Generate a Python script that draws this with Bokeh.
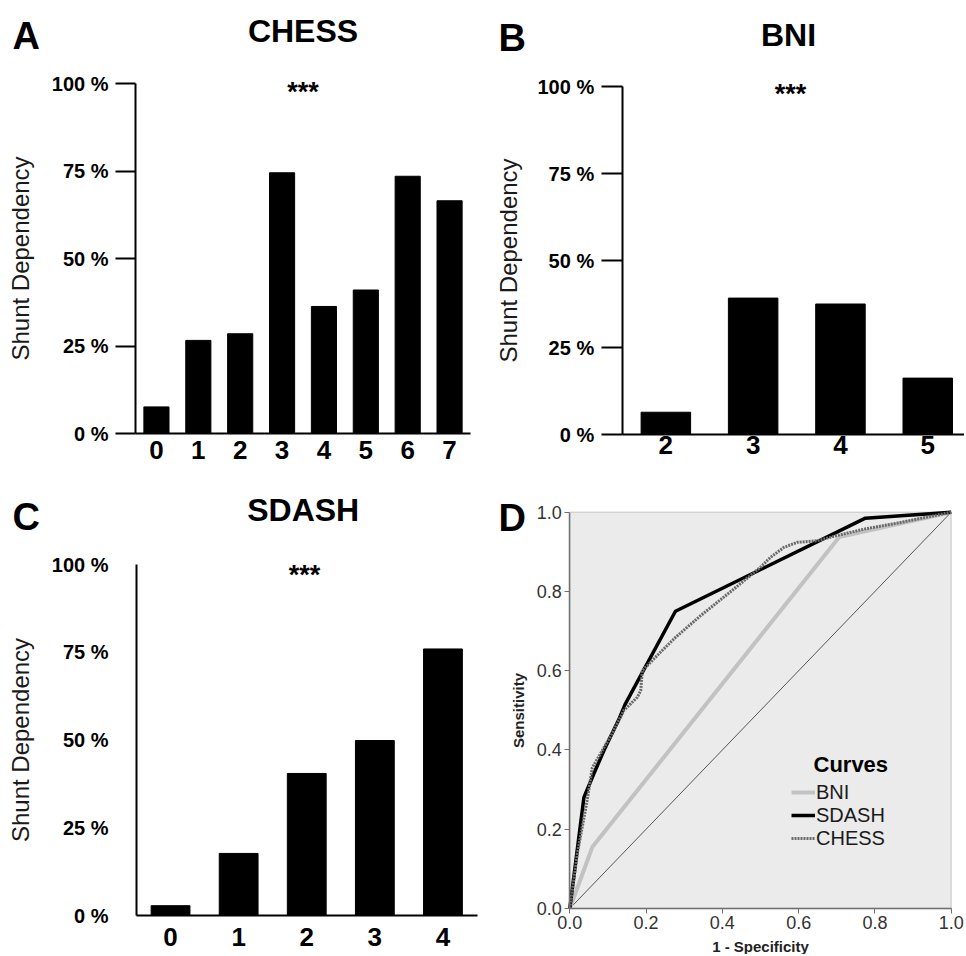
from bokeh.plotting import figure
from bokeh.models import (Range1d, FixedTicker, Label, Legend, LegendItem,
                          PrintfTickFormatter, BoxAnnotation)
from bokeh.layouts import column, row
from bokeh.embed import file_html
from bokeh.resources import INLINE

FONT = "Liberation Sans"

# ---------------- data ----------------
# Panel A: CHESS score vs shunt dependency (%)
chess_scores = [0, 1, 2, 3, 4, 5, 6, 7]
chess_pct = [7.6, 26.6, 28.5, 74.5, 36.3, 41.0, 73.5, 66.5]
# Panel B: BNI score
bni_scores = [2, 3, 4, 5]
bni_pct = [6.4, 39.2, 37.5, 16.2]
# Panel C: SDASH score
sdash_scores = [0, 1, 2, 3, 4]
sdash_pct = [2.8, 17.7, 40.5, 49.9, 76.0]

pct_ticks = [0, 25, 50, 75, 100]
pct_tick_labels = ["0 %", "25 %", "50 %", "75 %", "100 %"]
significance = "***"
bar_y_title = "Shunt Dependency"

# Panel D: ROC curves
roc_ticks = [0.0, 0.2, 0.4, 0.6, 0.8, 1.0]
ref_x = [0.0, 1.0]
ref_y = [0.0, 1.0]
bni_fpr = [0.0, 0.059, 0.706, 1.0]
bni_tpr = [0.0, 0.155, 0.937, 1.0]
sdash_fpr = [0.0, 0.037, 0.063, 0.09, 0.13, 0.145, 0.277, 0.775, 1.0]
sdash_tpr = [0.0, 0.28, 0.34, 0.40, 0.48, 0.515, 0.75, 0.985, 1.0]
chess_fpr = [0.0, 0.02, 0.045, 0.059, 0.08, 0.11, 0.142, 0.177, 0.186, 0.19, 0.238,
             0.277, 0.343, 0.43, 0.5, 0.526, 0.561, 0.596, 0.649, 0.70, 0.775, 0.867, 1.0]
chess_tpr = [0.0, 0.14, 0.27, 0.355, 0.39, 0.44, 0.50, 0.533, 0.55, 0.60, 0.647,
             0.684, 0.739, 0.806, 0.861, 0.886, 0.911, 0.924, 0.928, 0.941, 0.958, 0.974, 1.0]
roc_x_title = "1 - Specificity"
roc_y_title = "Sensitivity"
legend_title = "Curves"

# ---------------- layout helpers ----------------
W1, W2 = 480, 484
H1, H2 = 470, 484


def lin(p0, v0, p1, v1):
    k = (p1 - p0) / (v1 - v0)
    return lambda px: v0 + (px - p0) / k


def make_fig(origin, size, xcal, ycal):
    """xcal/ycal: (page_px_a, value_a, page_px_b, value_b)."""
    ox, oy = origin
    w, h = size
    fx = lin(xcal[0] - ox, xcal[1], xcal[2] - ox, xcal[3])
    fy = lin(ycal[0] - oy, ycal[1], ycal[2] - oy, ycal[3])
    p = figure(width=w, height=h, x_range=Range1d(fx(0), fx(w)),
               y_range=Range1d(fy(h), fy(0)), toolbar_location=None,
               output_backend="svg", tools="")
    p.min_border = 0
    p.min_border_left = p.min_border_right = p.min_border_top = p.min_border_bottom = 0
    p.outline_line_color = None
    p.grid.visible = False
    page_x = lambda px: fx(px - ox)
    page_y = lambda py: fy(py - oy)
    return p, page_x, page_y, fx(w)


def add_label(p, x, y, text, size, style="bold", align="center", color="black"):
    p.add_layout(Label(x=x, y=y, text=text, text_font=FONT, text_font_size=size,
                       text_font_style=style, text_align=align, text_baseline="middle",
                       text_color=color))


def bar_panel(origin, size, scores, pct, xcal, ycal, x0, x1, bar_w, y_tick_out, y_std,
              ylab_std, x_std, title, letter, title_px, letter_px, star_px):
    p, PX, PY, xend = make_fig(origin, size, xcal, ycal)
    p.vbar(x=scores, top=pct, width=bar_w, bottom=0, color="black")

    xa = p.xaxis[0]
    xa.fixed_location = 0
    xa.bounds = (x0, x1)
    xa.ticker = FixedTicker(ticks=scores)
    xa.major_tick_out = 0
    xa.major_tick_in = 0
    xa.minor_tick_out = 0
    xa.minor_tick_in = 0
    xa.axis_line_width = 2
    xa.axis_line_color = "black"
    xa.major_label_text_font = FONT
    xa.major_label_text_font_size = "26px"
    xa.major_label_text_font_style = "bold"
    xa.major_label_text_color = "black"
    xa.major_label_standoff = x_std

    ya = p.yaxis[0]
    ya.fixed_location = x0
    ya.bounds = (0, 100)
    ya.ticker = FixedTicker(ticks=pct_ticks)
    ya.major_label_overrides = dict(zip(pct_ticks, pct_tick_labels))
    ya.major_tick_out = y_tick_out
    ya.major_tick_in = 0
    ya.minor_tick_out = 0
    ya.minor_tick_in = 0
    ya.major_tick_line_width = 2
    ya.major_tick_line_color = "black"
    ya.axis_line_width = 2
    ya.axis_line_color = "black"
    ya.major_label_text_font = FONT
    ya.major_label_text_font_size = "20px"
    ya.major_label_text_font_style = "bold"
    ya.major_label_text_color = "black"
    ya.major_label_standoff = y_std
    ya.axis_label = bar_y_title
    ya.axis_label_text_font = FONT
    ya.axis_label_text_font_size = "24px"
    ya.axis_label_text_font_style = "normal"
    ya.axis_label_text_color = "#1a1a1a"
    ya.axis_label_standoff = ylab_std

    add_label(p, PX(title_px[0]), PY(title_px[1]), title, "32px")
    add_label(p, PX(letter_px[0]), PY(letter_px[1]), letter, "38px", align="left")
    add_label(p, PX(star_px[0]), PY(star_px[1]), significance, "27px")
    return p


pA = bar_panel((0, 0), (W1, H1), chess_scores, chess_pct,
               (135, -0.5, 470, 7.5), (433, 0, 83, 100), -0.5, 7.5, 0.6,
               20, 7, 15, 7, "CHESS", "A", (302.5, 30), (12, 35), (302.5, 91))
pB = bar_panel((W1, 0), (W2, H1), bni_scores, bni_pct,
               (621.7, 1.5, 709.0, 2.5), (434, 0, 86, 100), 1.5, 6.0, 0.567,
               21, 7, 13, 1, "BNI", "B", (788, 34), (498, 37), (790, 93))
pC = bar_panel((0, H1), (W1, H2), sdash_scores, sdash_pct,
               (136, -0.5, 476.5, 4.5), (915, 0, 564.3, 100), -0.5, 4.5, 0.57,
               0, 28, 15, 12, "SDASH", "C", (302.7, 509), (12, 516), (304, 574))

# ---------------- Panel D: ROC ----------------
pD, DX, DY, _ = make_fig((W1, H1), (W2, H2), (569.3, 0, 950.7, 1), (908, 0, 511.7, 1))
pD.add_layout(BoxAnnotation(left=0, right=1, bottom=0, top=1, fill_color="#ebebeb",
                            fill_alpha=1, line_color="#8f8f8f", line_width=1.5,
                            level="underlay"))

pD.line(ref_x, ref_y, color="#555555", line_width=1)
r_bni = pD.line(bni_fpr, bni_tpr, color="#c2c2c2", line_width=4)
r_sdash = pD.line(sdash_fpr, sdash_tpr, color="black", line_width=3.5)
r_chess = pD.line(chess_fpr, chess_tpr, color="#6a6a6a", line_width=3, line_dash="2 1")

for ax in (pD.xaxis[0], pD.yaxis[0]):
    ax.fixed_location = 0
    ax.bounds = (0, 1)
    ax.ticker = FixedTicker(ticks=roc_ticks)
    ax.formatter = PrintfTickFormatter(format="%.1f")
    ax.major_tick_out = 5
    ax.major_tick_in = 0
    ax.minor_tick_out = 0
    ax.minor_tick_in = 0
    ax.major_tick_line_color = "#707070"
    ax.axis_line_color = "#707070"
    ax.axis_line_width = 1.5
    ax.major_label_text_font = FONT
    ax.major_label_text_font_size = "18px"
    ax.major_label_text_color = "#333333"
    ax.axis_label_text_font = FONT
    ax.axis_label_text_font_size = "15px"
    ax.axis_label_text_font_style = "bold"
    ax.axis_label_text_color = "#222222"

pD.xaxis[0].axis_label = roc_x_title
pD.xaxis[0].major_label_standoff = 2
pD.xaxis[0].axis_label_standoff = 6
pD.yaxis[0].axis_label = roc_y_title
pD.yaxis[0].major_label_standoff = 3
pD.yaxis[0].axis_label_standoff = 6

add_label(pD, DX(498), DY(517), "D", "38px", align="left")
add_label(pD, DX(813), DY(764), legend_title, "22px", align="left")

for lbl, rend, cy in (("BNI", r_bni, 792), ("SDASH", r_sdash, 815), ("CHESS", r_chess, 838)):
    lg = Legend(items=[LegendItem(label=lbl, renderers=[rend])],
                location=(791 - W1, (H1 + H2) - cy - 11.5),
                padding=0, margin=0, spacing=0, label_standoff=1, glyph_width=24,
                glyph_height=20, background_fill_alpha=0, border_line_color=None,
                label_text_font=FONT, label_text_font_size="20px",
                label_text_color="#1a1a1a")
    pD.add_layout(lg)

layout = column(row(pA, pB), row(pC, pD))
open("out.html", "w").write(file_html(layout, INLINE))
